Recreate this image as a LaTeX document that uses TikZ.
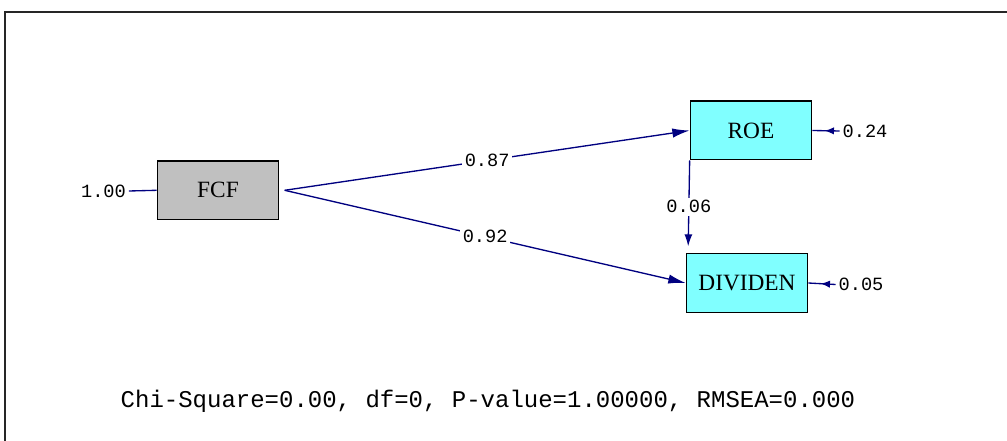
\documentclass[tikz,border=0pt]{standalone}
\usepackage{fontspec}
\setmainfont{Liberation Serif}
\newfontfamily\lblfont{Liberation Mono}
\usetikzlibrary{arrows.meta,decorations.markings}
\definecolor{pathblue}{RGB}{0,0,128}
\definecolor{boxcyan}{RGB}{128,255,255}
\definecolor{boxgray}{RGB}{192,192,192}
\tikzset{
    var/.style={draw=black, line width=1pt, minimum width=91pt, minimum height=44pt,
        inner sep=0pt, font=\fontsize{17.5}{20}\selectfont},
    exo/.style={var, fill=boxgray},
    endo/.style={var, fill=boxcyan},
    link/.style={draw=pathblue, line width=1pt, -{Latex[length=13pt,width=7pt]}},
    coef/.style={fill=white, inner sep=2pt, font=\lblfont\fontsize{14}{16}\selectfont},
    errlink/.style={draw=pathblue, line width=1pt, postaction={decorate},
        decoration={markings, mark=at position 0.55 with {\arrow{Latex[length=7pt,width=5.5pt]}}}}
}
\begin{document}
\begin{tikzpicture}[x=0.75pt,y=-0.75pt]
    \useasboundingbox (0,0) rectangle (1007,441);
    \draw[line width=1.5pt, black!85] (5,441) -- (5,12) -- (1007,12);
    % variables
    \node[exo]  (fcf) at (218,190.3) {FCF};
    \node[endo] (roe) at (751,130.5) {ROE};
    \node[endo] (div) at (747,283) {DIVIDEN};
    \coordinate (fork) at ([xshift=4pt]fcf.east);
    % paths
    \draw[link] (fork) -- (roe.west) node[coef, midway] {0.87};
    \draw[link] (fork) -- (div.west) node[coef, midway] {0.92};
    \draw[link, -{Latex[length=9pt,width=6pt]}, shorten >=5pt]
        (roe.south west) -- ([xshift=1.8pt]div.north west) node[coef, midway] {0.06};
    % variances
    \node[coef, fill=none] (fcfvar) at (103.5,191) {1.00};
    \draw[pathblue, line width=1pt] (fcfvar.east) -- (fcf.west);
    \node[coef, fill=none] (roeerr) at (865,131) {0.24};
    \node[coef, fill=none] (diverr) at (861,284.5) {0.05};
    \draw[errlink] (roeerr.west) -- (roe.east);
    \draw[errlink] (diverr.west) -- (div.east);
    % fit
    \node[font=\lblfont\fontsize{18}{20}\selectfont] (fit) at (488,401)
        {Chi-Square=0.00, df=0, P-value=1.00000, RMSEA=0.000};
\end{tikzpicture}
\end{document}
